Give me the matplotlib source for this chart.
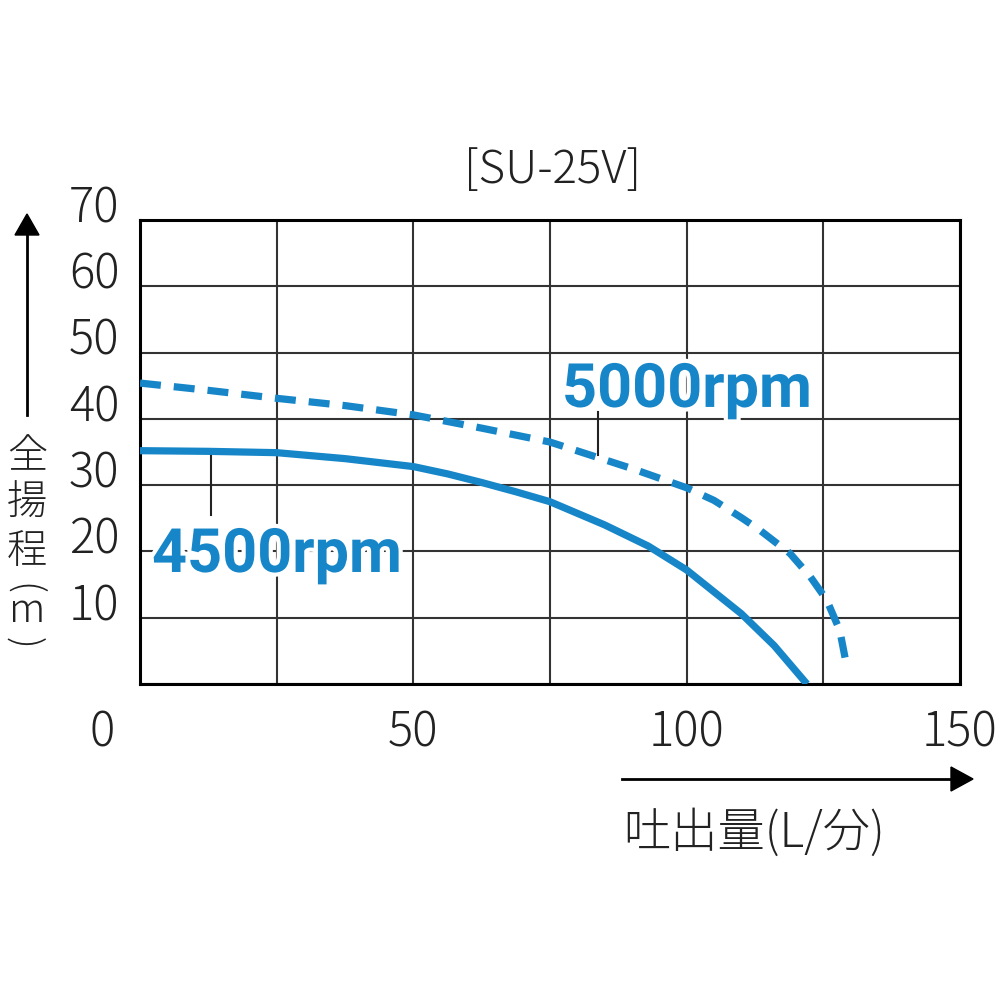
import numpy as np
import matplotlib.pyplot as plt
import matplotlib.patheffects as pe
from matplotlib.transforms import ScaledTranslation

plt.rcParams['font.family'] = ['Noto Sans CJK JP', 'DejaVu Sans']

# pump curve SU-25V
flow_4500 = [0, 12.5, 25, 37.5, 50, 56.25, 62.5, 68.75, 75, 85, 93, 100, 105, 110, 116, 122]
head_4500 = [35.2, 35.1, 34.9, 34.0, 32.8, 31.7, 30.4, 29.0, 27.5, 24.0, 20.8, 17.2, 13.9, 10.6, 5.8, 0.0]

flow_5000 = [0, 12.5, 25, 37.5, 50, 62.5, 75, 90, 100, 105, 110, 113.4, 118.9, 122.6, 125.6, 128, 129.3]
head_5000 = [45.4, 44.3, 43.1, 42.0, 40.6, 38.6, 36.5, 32.5, 29.6, 27.7, 25.1, 23.2, 19.7, 16.2, 12.7, 8.1, 2.6]

x_ticks = [0, 50, 100, 150]
y_ticks = [10, 20, 30, 40, 50, 60, 70]
title = "[SU-25V]"
xlabel = "吐出量(L/分)"
# vertical y label: (char, fig x, fig y, rotation, size)
ylabel = [("全", 0.027, 0.543, 0, 29), ("揚", 0.027, 0.496, 0, 29), ("程", 0.027, 0.448, 0, 29),
          ("(", 0.024, 0.411, -90, 27), ("m", 0.027, 0.389, 0, 29), (")", 0.024, 0.357, -90, 27)]

# label text and leader line (x, y_from, y_to)
lbl_5000 = ("5000rpm", 77.2, 41.8, (83.8, 41.0, 34.5))
lbl_4500 = ("4500rpm", 2.2, 16.9, (13.0, 35.0, 25.5))

blue = '#1686c8'
ink = '#222222'

fig = plt.figure(figsize=(10, 10), dpi=100)
ax = fig.add_axes([0.14, 0.316, 0.82, 0.464])
ax.set_xlim(0, 150)
ax.set_ylim(0, 70)

ax.set_xticks(np.arange(0, 151, 25))
ax.set_yticks(np.arange(0, 71, 10))
ax.grid(True, color='#333333', lw=1.5)
ax.set_axisbelow(True)
for s in ax.spines.values():
    s.set_linewidth(2.2)
    s.set_color('black')
ax.tick_params(length=0)
ax.set_xticklabels([])
ax.set_yticklabels([])

# tick labels drawn as text so they can match the picture
up = ScaledTranslation(0, 8 / 72, fig.dpi_scale_trans)
for v in y_ticks:
    ax.text(-0.025, v, str(v), transform=ax.get_yaxis_transform() + up, ha='right', va='center',
            fontsize=34, fontweight='light', color=ink)
for v in x_ticks:
    xx = v if v > 0 else -7
    ax.text(xx, -0.105, str(v), transform=ax.get_xaxis_transform(), ha='center', va='center',
            fontsize=34, fontweight='light', color=ink)

ax.plot(flow_4500, head_4500, color=blue, lw=5.2, solid_capstyle='butt', solid_joinstyle='round', zorder=3)
ax.plot(flow_5000, head_5000, color=blue, lw=5.2, dashes=(2.9, 1.8), zorder=3)

for txt, tx, ty, (lx, ly0, ly1) in [lbl_5000, lbl_4500]:
    ax.plot([lx, lx], [ly0, ly1], color=ink, lw=1.5, zorder=2)
    ax.text(tx, ty, txt, ha='left', va='baseline', fontsize=44, fontweight='bold',
            family=['Roboto', 'DejaVu Sans'], color=blue, zorder=4,
            path_effects=[pe.withStroke(linewidth=6, foreground='white')])

fig.text(0.553, 0.830, title, ha='center', va='center', fontsize=33, fontweight='light', color=ink)

# axis arrows
fig.add_artist(plt.Line2D([0.027, 0.027], [0.585, 0.77], color='black', lw=2))
fig.patches.append(plt.Polygon([[0.015, 0.765], [0.039, 0.765], [0.027, 0.786]],
                               closed=True, color='black', transform=fig.transFigure))
fig.add_artist(plt.Line2D([0.622, 0.955], [0.221, 0.221], color='black', lw=2))
fig.patches.append(plt.Polygon([[0.951, 0.233], [0.951, 0.209], [0.973, 0.221]],
                               closed=True, color='black', transform=fig.transFigure))

for ch, xx, yy, rot, sz in ylabel:
    fig.text(xx, yy, ch, ha='center', va='center', rotation=rot,
             fontsize=sz, fontweight='light', color=ink)

fig.text(0.623, 0.167, xlabel, ha='left', va='center', fontsize=34, fontweight='light', color=ink)

fig.savefig('out.png', dpi=100, facecolor='white')
